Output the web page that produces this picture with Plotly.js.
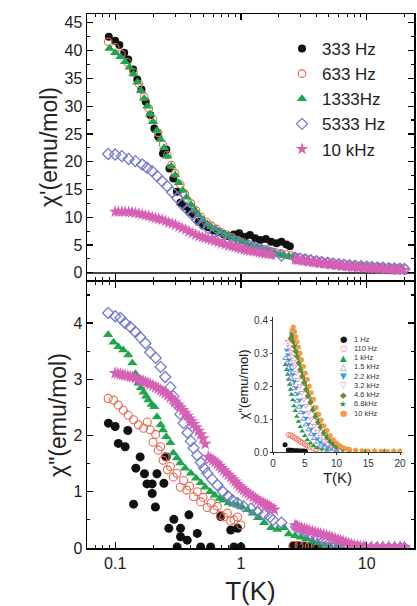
<!DOCTYPE html>
<html><head><meta charset="utf-8">
<script src="https://cdn.plot.ly/plotly-3.0.1.min.js"></script>
<style>html,body{margin:0;padding:0;background:#fff}#chart{width:417px;height:606px}</style>
</head><body><div id="chart"></div>
<script>
// ---------- Top panel: chi' (emu/mol) vs T(K) ----------
var names = ["333 Hz", "633 Hz", "1333Hz", "5333 Hz", "10 kHz"];

var T1_333 = [0.089,0.1,0.108,0.118,0.127,0.139,0.15,0.162,0.175,0.19,0.205,0.22,0.24,0.255,0.27,0.29,0.31,0.33,0.36,0.39,0.42,0.46,0.5,0.55,0.6,0.66,0.72,0.8,0.88,0.97,1.07,1.18,1.3,1.43,1.58,1.74,1.92,2.1,2.3,2.45];
var c1_333 = [42.5,41.8,41.0,39.6,38.4,36.6,34.8,33.0,30.8,28.4,26.0,24.5,21.5,22.2,18.8,17.0,14.6,12.6,12.0,11.0,10.6,9.2,8.5,8.2,7.6,7.4,7.0,6.6,6.9,7.1,6.5,6.8,6.2,5.9,6.1,5.6,5.3,5.6,5.1,4.8];

var T1_633 = [0.088,0.1,0.112,0.125,0.14,0.155,0.17,0.185,0.2,0.22,0.24,0.26,0.28,0.3,0.33,0.36,0.4,0.44,0.48,0.53,0.58,0.64,0.7,0.77,0.85,0.94,1.04,1.15,1.27,1.4,1.55,1.7,1.88,2.07,2.28,2.5,2.65,2.9,3.2,3.5,3.9,4.3,4.8,5.3,5.9,6.5,7.2,8.0,8.9,9.9,11,12.2,13.5,15,16.6,18.4,20];
var c1_633 = [41.6,40.6,39.4,37.9,36.1,34.0,31.7,29.6,27.6,25.2,23.1,21.2,19.4,17.9,15.9,14.2,12.5,11.2,10.1,9.2,8.5,7.9,7.3,6.9,6.4,5.9,5.5,5.1,4.8,4.5,4.2,3.9,3.7,3.5,3.3,3.1,2.9,2.75,2.55,2.4,2.2,2.05,1.9,1.75,1.62,1.5,1.4,1.3,1.2,1.12,1.05,0.98,0.92,0.86,0.8,0.75,0.7];

var T1_1333 = [0.09,0.1,0.11,0.12,0.13,0.14,0.15,0.16,0.17,0.18,0.19,0.2,0.215,0.23,0.245,0.26,0.28,0.3,0.32,0.345,0.37,0.4,0.43,0.46,0.5,0.54,0.58,0.63,0.68,0.74,0.8,0.87,0.95,1.03,1.12,1.22,1.33,1.45,1.58,1.72,1.87,2.04,2.22,2.42,2.6,2.8,3.1,3.4,3.8,4.2,4.6,5.1,5.6,6.2,6.9,7.6,8.4,9.3,10.3,11.4,12.6,13.9,15.4,17,18.8];
var c1_1333 = [40.4,39.6,38.9,38.0,37.0,35.8,34.3,32.8,31.4,30.0,28.6,27.2,25.6,24.0,22.5,21.0,19.2,17.6,16.2,14.8,13.6,12.3,11.3,10.4,9.5,8.8,8.3,7.9,7.4,7.0,6.7,6.3,5.9,5.5,5.2,4.9,4.6,4.3,4.0,3.8,3.5,3.3,3.1,2.9,2.8,2.65,2.5,2.35,2.2,2.05,1.9,1.78,1.65,1.55,1.45,1.35,1.27,1.2,1.14,1.08,1.03,0.98,0.94,0.9,0.86];

var T1_5333 = [0.088,0.1,0.113,0.128,0.145,0.164,0.179,0.197,0.216,0.236,0.259,0.284,0.311,0.341,0.374,0.41,0.45,0.494,0.55,0.62,0.7,0.8,0.9,1.0,1.15,1.3,1.45,1.62,1.8,2.1,2.7,2.95,3.25,3.6,4.0,4.4,4.9,5.4,6.0,6.6,7.3,8.1,9.0,10,11,12.2,13.5,15,16.6,18.4,20];
var c1_5333 = [21.4,21.3,21.0,20.5,20.1,19.5,18.9,18.3,17.4,16.5,15.6,14.5,13.5,12.3,11.4,10.5,9.5,8.8,8.0,7.3,6.7,6.1,5.7,5.3,4.9,4.5,4.2,3.9,3.5,3.1,2.7,2.55,2.4,2.25,2.1,1.95,1.8,1.68,1.56,1.45,1.35,1.26,1.18,1.1,1.03,0.96,0.9,0.84,0.78,0.73,0.68];

var T1_10k = [0.1,0.106,0.113,0.12,0.128,0.136,0.145,0.154,0.164,0.174,0.185,0.197,0.209,0.222,0.236,0.251,0.267,0.284,0.302,0.321,0.341,0.363,0.386,0.41,0.437,0.465,0.494,0.52,0.55,0.585,0.62,0.66,0.7,0.75,0.8,0.85,0.9,0.95,1.0,1.06,1.12,1.18,1.25,1.32,1.4,1.47,1.55,1.65,1.75,2.7,2.8,2.9,3.05,3.2,3.35,3.5,3.7,3.9,4.1,4.3,4.55,4.8,5.05,5.3,5.6,5.9,6.2,6.5,6.85,7.2,7.6,8.0,8.45,8.9,9.4,9.9,10.45,11,11.6,12.2,12.85,13.5,14.2,15,15.8,16.6,17.5,18.4,19.6];
var c1_10k = [11.0,11.0,11.0,10.98,10.95,10.9,10.8,10.65,10.5,10.35,10.2,10.0,9.85,9.7,9.55,9.3,9.05,8.85,8.6,8.3,8.05,7.75,7.45,7.15,6.85,6.6,6.4,6.25,6.1,5.9,5.7,5.5,5.3,5.1,4.9,4.75,4.6,4.45,4.3,4.17,4.05,3.95,3.85,3.75,3.65,3.55,3.45,3.35,3.25,2.4,2.35,2.3,2.22,2.15,2.07,2.0,1.92,1.85,1.78,1.72,1.66,1.6,1.54,1.48,1.42,1.36,1.3,1.25,1.2,1.15,1.1,1.05,1.01,0.97,0.93,0.9,0.86,0.83,0.8,0.76,0.73,0.7,0.67,0.64,0.61,0.58,0.55,0.53,0.5];

// ---------- Bottom panel: chi'' (emu/mol) vs T(K) ----------
var T2_333 = [0.0884,0.1,0.106,0.12,0.126,0.14,0.146,0.158,0.171,0.179,0.197,0.197,0.209,0.215,0.244,0.255,0.267,0.293,0.311,0.331,0.331,0.374,0.386,0.45,0.479,0.575,0.69,0.83,0.88,0.94,1.0,2.6,2.8,3.0,3.2,3.5,3.8,4.1];
var c2_333 = [2.22,2.16,1.86,1.80,2.09,0.78,1.42,1.62,1.32,1.14,1.14,0.97,0.73,1.32,1.15,1.62,0.35,0.51,0.02,0.35,0.2,0.14,0.59,0.26,0.02,0.02,0.56,0.32,0.02,0.35,0.02,0.03,0.04,0.03,0.03,0.02,0.02,0.02];

var T2_633 = [0.088,0.097,0.106,0.116,0.127,0.14,0.153,0.168,0.18,0.19,0.2,0.21,0.22,0.23,0.24,0.25,0.26,0.275,0.29,0.31,0.33,0.35,0.37,0.39,0.42,0.45,0.48,0.5,0.54,0.58,0.61,0.65,0.69,0.73,0.78,0.83,0.88,0.94,1.0,2.6,2.9,3.2,3.5,3.9,4.3,4.8,5.3,5.9,6.5];
var c2_633 = [2.66,2.63,2.54,2.45,2.36,2.28,2.19,2.13,2.24,2.1,1.88,2.02,1.74,1.8,1.56,1.62,1.39,1.45,1.26,1.33,1.08,1.2,1.03,1.1,0.91,1.0,0.82,0.9,0.72,0.8,0.68,0.74,0.58,0.55,0.62,0.48,0.5,0.55,0.41,0.05,0.045,0.04,0.035,0.03,0.025,0.02,0.015,0.01,0.005];

var T2_1333 = [0.088,0.097,0.106,0.116,0.127,0.137,0.145,0.153,0.16,0.168,0.176,0.184,0.195,0.205,0.215,0.23,0.24,0.255,0.275,0.29,0.31,0.33,0.36,0.4,0.44,0.48,0.52,0.57,0.62,0.68,0.73,0.8,0.87,0.94,1.02,1.13,1.24,1.37,1.53,1.74,1.95,2.2,2.4,2.7,3.0,3.3,3.7,4.1,4.6,5.1,5.7,6.4];
var c2_1333 = [3.79,3.66,3.58,3.52,3.43,3.29,3.1,2.93,2.85,2.77,2.7,2.63,2.55,2.51,2.33,2.19,2.1,1.98,1.87,1.69,1.6,1.51,1.42,1.33,1.24,1.16,1.08,1.0,0.94,0.88,0.85,0.8,0.78,0.76,0.73,0.68,0.62,0.54,0.45,0.36,0.33,0.36,0.25,0.22,0.19,0.16,0.12,0.09,0.05,0.03,0.01,0.0];

var T2_5333 = [0.088,0.1,0.11,0.12,0.132,0.145,0.158,0.174,0.19,0.21,0.23,0.25,0.275,0.29,0.31,0.33,0.35,0.376,0.4,0.42,0.45,0.48,0.51,0.54,0.59,0.65,0.72,0.79,0.86,0.94,1.05,1.2,1.35,1.53,1.7,1.8,2.1,2.75,3.0,3.3,3.6,4.0,4.4,4.8,5.3,5.8,6.4,7.0,7.8,8.7,9.7,10.8,12,13.4,15,16.7,18.6,20];
var c2_5333 = [4.18,4.12,4.09,4.0,3.93,3.84,3.75,3.64,3.48,3.38,3.22,3.04,2.86,2.7,2.55,2.38,2.22,2.05,1.9,1.78,1.65,1.52,1.42,1.33,1.22,1.12,1.0,0.92,0.85,0.8,0.74,0.7,0.64,0.6,0.55,0.5,0.45,0.38,0.33,0.29,0.25,0.2,0.16,0.12,0.08,0.05,0.02,0.01,0.0,0.0,0.0,0.0,0.0,0.0,0.0,0.0,0.0,0.0];

var T2_10k = [0.1,0.105,0.11,0.115,0.12,0.126,0.132,0.138,0.145,0.152,0.16,0.167,0.174,0.182,0.19,0.2,0.21,0.22,0.23,0.24,0.25,0.262,0.275,0.287,0.3,0.315,0.33,0.345,0.36,0.375,0.39,0.405,0.42,0.44,0.46,0.48,0.5,0.52,0.55,0.575,0.6,0.625,0.65,0.675,0.7,0.73,0.76,0.795,0.83,0.865,0.9,0.935,0.97,1.01,1.05,1.095,1.14,1.19,1.25,1.31,1.37,1.43,1.5,1.56,1.62,1.68,1.74,1.84,2.7,2.8,2.9,3.05,3.2,3.35,3.5,3.7,3.9,4.1,4.3,4.55,4.8,5.05,5.3,5.6,5.9,6.2,6.5,6.85,7.2,7.6,8.0,8.45,8.9,9.4,9.9,11,12.2,13.5,15,16.6,18.4,20];
var c2_10k = [3.11,3.1,3.09,3.08,3.07,3.06,3.05,3.04,3.02,3.0,2.98,2.97,2.95,2.93,2.91,2.89,2.86,2.84,2.81,2.78,2.75,2.72,2.68,2.64,2.6,2.55,2.5,2.45,2.4,2.35,2.3,2.25,2.2,2.14,2.08,2.02,1.95,1.85,1.62,1.59,1.56,1.53,1.5,1.46,1.42,1.38,1.34,1.3,1.26,1.22,1.18,1.14,1.1,1.06,1.03,1.0,0.97,0.94,0.91,0.88,0.85,0.82,0.8,0.78,0.76,0.74,0.72,0.68,0.4,0.385,0.37,0.355,0.34,0.325,0.31,0.295,0.28,0.265,0.25,0.235,0.22,0.205,0.19,0.17,0.15,0.135,0.12,0.1,0.08,0.065,0.05,0.04,0.03,0.025,0.02,0.02,0.02,0.02,0.02,0.02,0.02,0.02];

var xTickVals = [0.1, 1, 10];
var xTickText = ["0.1", "1", "10"];

// ---------- Inset: chi'' (emu/mol) vs T(K), linear ----------
var insetNames = ["1 Hz","110 Hz","1 kHz","1.5 kHz","2.2 kHz","3.2 kHz","4.6 kHz","6.8kHz","10 kHz"];
var in_T_1 = [1.9,2.4,2.7,3.0,3.3,3.6,3.9,4.2,4.5,4.8,5.1];
var in_v_1 = [0.022,0.006,0.005,0.005,0.004,0.004,0.004,0.003,0.003,0.003,0.002];
var in_T_110 = [2.5,2.8,3.1,3.4,3.7,4.0,4.3,4.6,5.0,5.4,5.8,6.3,6.8,7.3];
var in_v_110 = [0.052,0.05,0.047,0.043,0.04,0.036,0.032,0.028,0.024,0.019,0.015,0.011,0.008,0.005];
var in_T_1k = [2.0,2.15,2.3,2.45,2.6,2.75,2.9,3.1,3.3,3.5,3.75,4.0,4.3,4.6,5.0,5.4,5.9,6.4,7.0,7.7,8.5];
var in_v_1k = [0.265,0.25,0.235,0.22,0.205,0.19,0.175,0.158,0.14,0.125,0.108,0.093,0.077,0.063,0.049,0.037,0.027,0.019,0.013,0.008,0.005];
var in_T_15k = [2.0,2.2,2.4,2.6,2.8,3.0,3.25,3.5,3.8,4.1,4.4,4.8,5.2,5.6,6.0,6.5,7.0,7.6,8.2,9.0,10.0];
var in_v_15k = [0.285,0.27,0.255,0.24,0.225,0.21,0.193,0.175,0.155,0.137,0.12,0.1,0.083,0.068,0.055,0.042,0.031,0.022,0.015,0.009,0.005];
var in_T_22k = [2.15,2.35,2.55,2.75,2.95,3.15,3.4,3.65,3.9,4.2,4.5,4.85,5.2,5.6,6.0,6.5,7.0,7.5,8.0,8.6,9.2,10.0];
var in_v_22k = [0.31,0.295,0.28,0.265,0.25,0.235,0.215,0.195,0.177,0.158,0.14,0.12,0.103,0.085,0.07,0.054,0.04,0.03,0.022,0.015,0.01,0.006];
var in_T_32k = [2.4,2.6,2.8,3.0,3.2,3.4,3.65,3.9,4.2,4.5,4.85,5.2,5.6,6.0,6.5,7.0,7.5,8.0,8.6,9.2,10.0,11.0];
var in_v_32k = [0.335,0.32,0.305,0.29,0.275,0.26,0.24,0.22,0.2,0.18,0.16,0.14,0.12,0.1,0.08,0.062,0.047,0.035,0.024,0.016,0.01,0.006];
var in_T_46k = [2.8,3.0,3.2,3.4,3.6,3.8,4.05,4.3,4.6,4.9,5.2,5.5,5.9,6.3,6.7,7.1,7.5,8.0,8.5,9.0,9.5,10.0,11.0,12.0];
var in_v_46k = [0.345,0.35,0.335,0.32,0.305,0.29,0.27,0.25,0.23,0.21,0.19,0.17,0.15,0.128,0.108,0.09,0.075,0.058,0.044,0.032,0.023,0.016,0.009,0.005];
var in_T_68k = [2.9,3.1,3.3,3.5,3.7,3.9,4.15,4.4,4.7,5.0,5.3,5.6,6.0,6.4,6.8,7.2,7.6,8.1,8.6,9.1,9.6,10.2,11.0,12.0,13.0,14.5,16.0,17.5,19.0,20.0];
var in_v_68k = [0.36,0.37,0.35,0.335,0.32,0.3,0.28,0.26,0.24,0.22,0.2,0.18,0.16,0.135,0.115,0.097,0.08,0.063,0.048,0.035,0.025,0.017,0.01,0.006,0.004,0.003,0.003,0.003,0.003,0.003];
var in_T_10k = [3.0,3.2,3.4,3.6,3.8,4.0,4.25,4.5,4.8,5.1,5.4,5.7,6.0,6.4,6.8,7.2,7.6,8.0,8.5,9.0,9.5,10.0,10.5,11.0,11.5,12.0,13.0,14.0,15.0,16.0,17.0,18.0,19.0,20.0];
var in_v_10k = [0.37,0.38,0.365,0.35,0.335,0.318,0.3,0.28,0.26,0.24,0.22,0.2,0.18,0.16,0.135,0.115,0.097,0.08,0.065,0.05,0.037,0.027,0.02,0.014,0.01,0.008,0.005,0.004,0.003,0.003,0.002,0.002,0.002,0.002];
var inTickVals = [0, 5, 10, 15, 20];
var inYTickVals = [0.0, 0.1, 0.2, 0.3, 0.4];
var inYTickText = ["0.0", "0.1", "0.2", "0.3", "0.4"];

// ---------- styles ----------
var FONT = "Arial, 'Liberation Sans', sans-serif";
var W = 417, H = 606;
function fx(p) { return p / W; }
function fy(p) { return 1 - p / H; }

var mainStyles = [
  {symbol: "circle", color: "#111111", line: {width: 0}, sTop: 8, sBot: 9},
  {symbol: "circle-open", color: "#e8674f", line: {width: 1.1, color: "#e8674f"}, sTop: 7.5, sBot: 8},
  {symbol: "triangle-up", color: "#1ea64c", line: {width: 0}, sTop: 9, sBot: 9},
  {symbol: "diamond-open", color: "#7479cf", line: {width: 1.3, color: "#7479cf"}, sTop: 8.5, sBot: 8.5},
  {symbol: "star", color: "#d660b5", line: {width: 0}, sTop: 9.5, sBot: 10}
];
var topX = [T1_333, T1_633, T1_1333, T1_5333, T1_10k];
var topY = [c1_333, c1_633, c1_1333, c1_5333, c1_10k];
var botX = [T2_333, T2_633, T2_1333, T2_5333, T2_10k];
var botY = [c2_333, c2_633, c2_1333, c2_5333, c2_10k];

var traces = [];
for (var i = 0; i < 5; i++) {
  var s = mainStyles[i];
  traces.push({
    x: topX[i], y: topY[i], xaxis: "x", yaxis: "y", type: "scatter", mode: "markers",
    name: names[i], legendrank: i + 1, showlegend: true,
    marker: {symbol: s.symbol, size: s.sTop, color: s.color, line: s.line}
  });
}
for (var i = 0; i < 5; i++) {
  var s = mainStyles[i];
  traces.push({
    x: botX[i], y: botY[i], xaxis: "x2", yaxis: "y2", type: "scatter", mode: "markers",
    name: names[i], showlegend: false,
    marker: {symbol: s.symbol, size: s.sBot, color: s.color, line: s.line}
  });
}

var inStyles = [
  {symbol: "circle", color: "#111111", open: false},
  {symbol: "circle-open", color: "#ef7b68", open: true},
  {symbol: "triangle-up", color: "#1f9e4a", open: false},
  {symbol: "triangle-up-open", color: "#7d80d2", open: true},
  {symbol: "triangle-down", color: "#2aa3dc", open: false},
  {symbol: "triangle-down-open", color: "#e493c8", open: true},
  {symbol: "diamond", color: "#6f8a2a", open: false},
  {symbol: "star", color: "#2f8f52", open: false},
  {symbol: "circle", color: "#f39a3f", open: false}
];
var inGlyphs = ["\u25CF", "\u25CB", "\u25B2", "\u25B3", "\u25BC", "\u25BD", "\u25C6", "\u2605", "\u25CF"];
var inX = [in_T_1, in_T_110, in_T_1k, in_T_15k, in_T_22k, in_T_32k, in_T_46k, in_T_68k, in_T_10k];
var inY = [in_v_1, in_v_110, in_v_1k, in_v_15k, in_v_22k, in_v_32k, in_v_46k, in_v_68k, in_v_10k];
for (var i = 0; i < 9; i++) {
  var s = inStyles[i];
  traces.push({
    x: inX[i], y: inY[i], xaxis: "x3", yaxis: "y3", type: "scatter", mode: "markers",
    name: insetNames[i], showlegend: false,
    marker: {symbol: s.symbol, size: 5, color: s.color, line: {width: s.open ? 1 : 0, color: s.color}}
  });
}

// inset legend as annotations
var annotations = [];
for (var i = 0; i < 9; i++) {
  var yy = fy(339 + i * 9.25);
  annotations.push({xref: "paper", yref: "paper", x: fx(343), y: yy, xanchor: "center", yanchor: "middle",
    text: inGlyphs[i], showarrow: false, font: {family: "DejaVu Sans", size: 8.5, color: inStyles[i].color}});
  annotations.push({xref: "paper", yref: "paper", x: fx(352), y: yy, xanchor: "left", yanchor: "middle",
    text: insetNames[i], showarrow: false, font: {family: FONT, size: 7.5, color: "#333"}});
}

var xr = [Math.log10(0.0597), Math.log10(23.8)];
var commonX = {
  type: "log", range: xr, domain: [fx(87), fx(414)],
  showline: true, linecolor: "#000", linewidth: 1.5, mirror: "allticks",
  ticks: "inside", ticklen: 6, tickwidth: 1.2, tickcolor: "#000",
  tickvals: xTickVals, ticktext: xTickText,
  minor: {ticks: "inside", ticklen: 3, tickwidth: 1, tickcolor: "#000", tickvals: [0.07,0.08,0.09,0.2,0.3,0.4,0.5,0.6,0.7,0.8,0.9,2,3,4,5,6,7,8,9,20], showgrid: false},
  showgrid: false, zeroline: false,
  tickfont: {family: FONT, size: 16, color: "#222"}
};

var layout = {
  width: W, height: H,
  margin: {l: 0, r: 0, t: 0, b: 0},
  paper_bgcolor: "#fff", plot_bgcolor: "rgba(0,0,0,0)",
  font: {family: FONT, color: "#222"},
  showlegend: true,
  legend: {x: fx(282), y: fy(31), xanchor: "left", yanchor: "top",
    font: {family: FONT, size: 17, color: "#222"}, bgcolor: "rgba(0,0,0,0)",
    itemwidth: 30, tracegroupgap: 0},
  xaxis: Object.assign({}, commonX, {anchor: "y", showticklabels: false}),
  yaxis: {
    domain: [fy(280), fy(14)], range: [-1.3, 46.6], anchor: "x",
    showline: true, linecolor: "#000", linewidth: 1.5, mirror: "allticks",
    ticks: "inside", ticklen: 6, tickwidth: 1.2, tickcolor: "#000",
    dtick: 5, tick0: 0,
    minor: {ticks: "inside", ticklen: 3, dtick: 2.5, tick0: 0, tickcolor: "#000", showgrid: false},
    showgrid: false, zeroline: true, zerolinecolor: "#444", zerolinewidth: 1.5,
    tickfont: {family: FONT, size: 16, color: "#222"},
    title: {text: "\u03C7'(emu/mol)", font: {family: FONT, size: 23, color: "#222"}, standoff: 0}
  },
  xaxis2: Object.assign({}, commonX, {anchor: "y2",
    title: {text: "T(K)", font: {family: FONT, size: 26, color: "#222"}, standoff: 28}}),
  yaxis2: {
    domain: [fy(548), fy(282)], range: [0, 4.73], anchor: "x2",
    showline: true, linecolor: "#000", linewidth: 1.5, mirror: "allticks",
    ticks: "inside", ticklen: 6, tickwidth: 1.2, tickcolor: "#000",
    dtick: 1, tick0: 0,
    minor: {ticks: "inside", ticklen: 3, dtick: 0.5, tick0: 0, tickcolor: "#000", showgrid: false},
    showgrid: false, zeroline: false,
    tickfont: {family: FONT, size: 16, color: "#222"},
    title: {text: "\u03C7\"(emu/mol)", font: {family: FONT, size: 23, color: "#222"}, standoff: 0}
  },
  xaxis3: {
    domain: [fx(273), fx(402)], range: [0, 20.3], anchor: "y3",
    showline: true, linecolor: "#333", linewidth: 1, mirror: false,
    ticks: "outside", ticklen: 2, tickcolor: "#333",
    tickvals: inTickVals, showgrid: false, zeroline: false,
    tickfont: {family: FONT, size: 10, color: "#333"},
    title: {text: "T(K)", font: {family: FONT, size: 15, color: "#222"}, standoff: 2}
  },
  yaxis3: {
    domain: [fy(452), fy(317)], range: [0, 0.41], anchor: "x3",
    showline: true, linecolor: "#333", linewidth: 1, mirror: false,
    ticks: "outside", ticklen: 2, tickcolor: "#333",
    tickvals: inYTickVals, ticktext: inYTickText, showgrid: false, zeroline: false,
    tickfont: {family: FONT, size: 10, color: "#333"},
    title: {text: "\u03C7\"(emu/mol)", font: {family: FONT, size: 13, color: "#222"}, standoff: 2}
  },
  annotations: annotations
};

Plotly.newPlot("chart", traces, layout, {displayModeBar: false, staticPlot: true});
</script>
</body></html>
